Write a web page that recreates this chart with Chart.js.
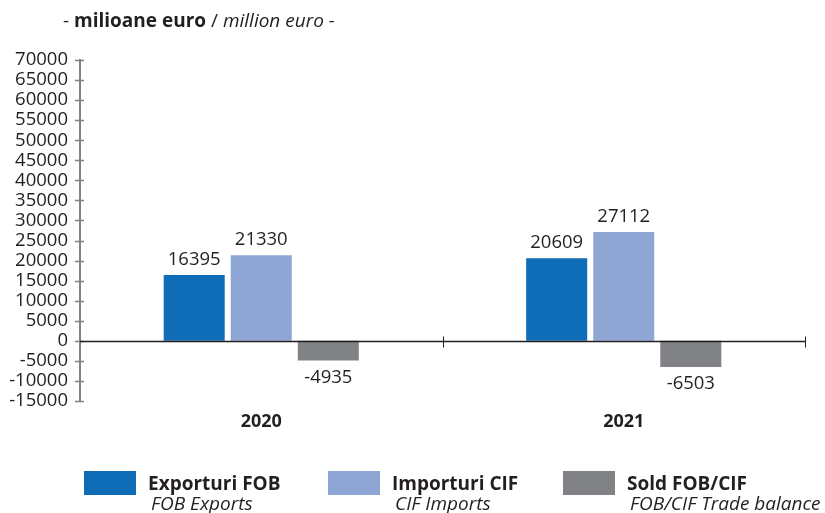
<!DOCTYPE html>
<html>
<head>
<meta charset="utf-8">
<script src="https://cdn.jsdelivr.net/npm/chart.js@4"></script>
<style>
  html, body { margin: 0; padding: 0; background: #fff; }
  #wrap { width: 825px; height: 513px; }
</style>
</head>
<body>
<div id="wrap"><canvas id="tradeChart" width="825" height="513"></canvas></div>
<script>
const years = ['2020', '2021'];
const exportsFob = [16395, 20609];
const importsCif = [21330, 27112];
const tradeBalance = [-4935, -6503];
const seriesNames = ['Exporturi FOB', 'Importuri CIF', 'Sold FOB/CIF'];
const seriesNamesEn = ['FOB Exports', 'CIF Imports', 'FOB/CIF Trade balance'];
const seriesColors = ['#0f6cb6', '#8ea6d4', '#808285'];

const FONT = '"Open Sans", "Noto Sans", sans-serif';
const TEXT = '#231f20';

// axis decorations: crossing ticks on y axis, zero line with category ticks
const axisDecor = {
    id: 'axisDecor',
    afterDatasetsDraw(chart) {
        const ctx = chart.ctx;
        const y = chart.scales.y;
        const x = chart.scales.x;
        const area = chart.chartArea;
        ctx.save();
        ctx.strokeStyle = '#808285';
        ctx.lineWidth = 1.5;
        y.ticks.forEach(function(t) {
            const py = Math.round(y.getPixelForValue(t.value)) + 0.5;
            ctx.beginPath();
            ctx.moveTo(area.left - 5, py);
            ctx.lineTo(area.left + 4, py);
            ctx.stroke();
        });
        const zy = Math.round(y.getPixelForValue(0)) + 0.5;
        ctx.strokeStyle = '#231f20';
        ctx.lineWidth = 1.3;
        ctx.beginPath();
        ctx.moveTo(area.left, zy);
        ctx.lineTo(area.right, zy);
        ctx.stroke();
        ctx.lineWidth = 1;
        const bounds = [];
        for (let i = 1; i < years.length; i++) {
            bounds.push((x.getPixelForValue(i - 1) + x.getPixelForValue(i)) / 2);
        }
        bounds.push(area.right);
        bounds.forEach(function(bx) {
            const px = Math.round(bx) + 0.5;
            ctx.beginPath();
            ctx.moveTo(px, zy - 5);
            ctx.lineTo(px, zy + 6);
            ctx.stroke();
        });
        ctx.restore();
    }
};

// value labels above / below bars
const valueLabels = {
    id: 'valueLabels',
    afterDatasetsDraw(chart) {
        const ctx = chart.ctx;
        ctx.save();
        ctx.font = '18.5px ' + FONT;
        ctx.fillStyle = TEXT;
        ctx.textAlign = 'center';
        chart.data.datasets.forEach(function(ds, di) {
            chart.getDatasetMeta(di).data.forEach(function(bar, i) {
                const v = ds.data[i];
                if (v >= 0) {
                    ctx.textBaseline = 'bottom';
                    ctx.fillText(String(v), bar.x, bar.y - 6);
                } else {
                    ctx.textBaseline = 'top';
                    ctx.fillText(String(v), bar.x, bar.y + 8);
                }
            });
        });
        ctx.restore();
    }
};

// unit title and two-line legend
const titleAndLegend = {
    id: 'titleAndLegend',
    afterDraw(chart) {
        const ctx = chart.ctx;
        ctx.save();
        ctx.fillStyle = TEXT;
        ctx.textBaseline = 'alphabetic';
        let tx = 63;
        const parts = [
            ['- ', ''], ['milioane euro', 'bold '], [' / ', ''], ['million euro -', 'italic ']
        ];
        parts.forEach(function(p) {
            ctx.font = p[1] + '19px ' + FONT;
            ctx.fillText(p[0], tx, 27);
            tx += ctx.measureText(p[0]).width;
        });

        const boxX = [84, 328, 563];
        seriesNames.forEach(function(name, i) {
            ctx.fillStyle = seriesColors[i];
            ctx.fillRect(boxX[i], 471, 52, 24);
            ctx.fillStyle = TEXT;
            ctx.font = 'bold 19px ' + FONT;
            ctx.fillText(name, boxX[i] + 64, 490);
            ctx.font = 'italic 19px ' + FONT;
            ctx.fillText(seriesNamesEn[i], boxX[i] + 67, 510);
        });
        ctx.restore();
    }
};

new Chart(document.getElementById('tradeChart').getContext('2d'), {
    type: 'bar',
    data: {
        labels: years,
        datasets: [
            { label: seriesNames[0], data: exportsFob, backgroundColor: seriesColors[0] },
            { label: seriesNames[1], data: importsCif, backgroundColor: seriesColors[1] },
            { label: seriesNames[2], data: tradeBalance, backgroundColor: seriesColors[2] }
        ]
    },
    options: {
        responsive: false,
        animation: false,
        events: [],
        categoryPercentage: 0.555,
        barPercentage: 0.91,
        layout: { padding: { top: 60, right: 20, left: 0, bottom: 0 } },
        plugins: {
            legend: { display: false },
            tooltip: { enabled: false }
        },
        scales: {
            x: {
                grid: { display: false, drawTicks: false },
                border: { display: false },
                ticks: {
                    padding: 10,
                    color: TEXT,
                    font: { family: FONT, size: 18, weight: 'bold' }
                },
                afterFit: function(scale) { scale.height = 112; }
            },
            y: {
                min: -15000,
                max: 70000,
                grid: { display: false, drawTicks: false },
                border: { display: true, color: '#808285', width: 2 },
                ticks: {
                    stepSize: 5000,
                    autoSkip: false,
                    padding: 12,
                    color: TEXT,
                    font: { family: FONT, size: 18.5 },
                    callback: function(value) { return String(value); }
                },
                afterFit: function(scale) { scale.width = 80; }
            }
        }
    },
    plugins: [axisDecor, valueLabels, titleAndLegend]
});
</script>
</body>
</html>
